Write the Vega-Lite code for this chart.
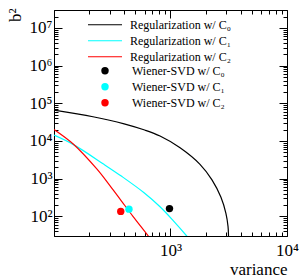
{
  "$schema": "https://vega.github.io/schema/vega-lite/v6.json",
  "width": 233,
  "height": 226,
  "autosize": "none",
  "padding": {"left": 54, "top": 10, "right": 18, "bottom": 44},
  "config": {
    "view": {"stroke": "#000000", "strokeWidth": 1},
    "font": "Liberation Serif",
    "axis": {
      "domain": false,
      "grid": false,
      "labelFont": "Liberation Serif",
      "labelFontSize": 17,
      "labelColor": "#000000",
      "titleFont": "Liberation Serif",
      "titleFontSize": 17,
      "titleFontWeight": "normal",
      "titleColor": "#000000",
      "tickColor": "#000000",
      "tickWidth": 1,
      "labelOverlap": false,
      "labelBound": false,
      "labelFlush": false
    },
    "legend": {
      "labelFont": "Liberation Serif",
      "labelFontSize": 12,
      "labelColor": "#000000",
      "padding": 0,
      "rowPadding": 0,
      "clipHeight": 15.5
    }
  },
  "layer": [
    {
      "data": {"values": [
        {"series": "Regularization w/ C₀", "variance": 100, "b2": 66000},
        {"series": "Regularization w/ C₀", "variance": 216, "b2": 44000},
        {"series": "Regularization w/ C₀", "variance": 400, "b2": 28500},
        {"series": "Regularization w/ C₀", "variance": 600, "b2": 19500},
        {"series": "Regularization w/ C₀", "variance": 813, "b2": 13500},
        {"series": "Regularization w/ C₀", "variance": 1208, "b2": 6600},
        {"series": "Regularization w/ C₀", "variance": 1791, "b2": 2400},
        {"series": "Regularization w/ C₀", "variance": 2270, "b2": 930},
        {"series": "Regularization w/ C₀", "variance": 2711, "b2": 320},
        {"series": "Regularization w/ C₀", "variance": 2990, "b2": 120},
        {"series": "Regularization w/ C₀", "variance": 3117, "b2": 54},
        {"series": "Regularization w/ C₀", "variance": 3147, "b2": 30},
        {"series": "Regularization w/ C₀", "variance": 3160, "b2": 10},
        {"series": "Regularization w/ C₁", "variance": 100, "b2": 14300},
        {"series": "Regularization w/ C₁", "variance": 147, "b2": 8000},
        {"series": "Regularization w/ C₁", "variance": 268, "b2": 2400},
        {"series": "Regularization w/ C₁", "variance": 381, "b2": 1150},
        {"series": "Regularization w/ C₁", "variance": 593, "b2": 422},
        {"series": "Regularization w/ C₁", "variance": 813, "b2": 179},
        {"series": "Regularization w/ C₁", "variance": 1050, "b2": 78},
        {"series": "Regularization w/ C₁", "variance": 1377, "b2": 30},
        {"series": "Regularization w/ C₁", "variance": 1620, "b2": 16},
        {"series": "Regularization w/ C₂", "variance": 100, "b2": 20200},
        {"series": "Regularization w/ C₂", "variance": 147, "b2": 8200},
        {"series": "Regularization w/ C₂", "variance": 235, "b2": 1750},
        {"series": "Regularization w/ C₂", "variance": 303, "b2": 640},
        {"series": "Regularization w/ C₂", "variance": 374, "b2": 270},
        {"series": "Regularization w/ C₂", "variance": 476, "b2": 100},
        {"series": "Regularization w/ C₂", "variance": 645, "b2": 30},
        {"series": "Regularization w/ C₂", "variance": 751, "b2": 16}
      ]},
      "mark": {"type": "line", "clip": true, "strokeWidth": 1.2, "interpolate": "catmull-rom"},
      "encoding": {
        "x": {
          "field": "variance", "type": "quantitative",
          "scale": {"type": "log", "domain": [100, 10000], "nice": false},
          "axis": {
            "orient": "bottom",
            "title": "variance",
            "titleAlign": "right",
            "titleAnchor": "end",
            "titleBaseline": "alphabetic",
            "titleX": 233,
            "titleY": 38,
            "values": [100, 200, 300, 400, 500, 600, 700, 800, 900, 1000, 2000, 3000, 4000, 5000, 6000, 7000, 8000, 9000, 10000],
            "labelExpr": "(datum.value >= 1000 && abs(log(datum.value)/LN10 - round(log(datum.value)/LN10)) < 0.001) ? '10' + ['⁰','¹','²','³','⁴','⁵','⁶','⁷','⁸','⁹'][round(log(datum.value)/LN10)] : ''",
            "tickSize": {"condition": {"test": "abs(log(datum.value)/LN10 - round(log(datum.value)/LN10)) < 0.001", "value": -8}, "value": -4},
            "labelPadding": 14
          }
        },
        "y": {
          "field": "b2", "type": "quantitative",
          "scale": {"type": "log", "domain": [30, 30000000], "nice": false},
          "axis": {
            "orient": "left",
            "title": "b²",
            "titleAngle": -90,
            "titleAlign": "right",
            "titleAnchor": "end",
            "titleBaseline": "alphabetic",
            "titleX": -34,
            "titleY": -2,
            "values": [30, 40, 50, 60, 70, 80, 90, 100, 200, 300, 400, 500, 600, 700, 800, 900, 1000, 2000, 3000, 4000, 5000, 6000, 7000, 8000, 9000, 10000, 20000, 30000, 40000, 50000, 60000, 70000, 80000, 90000, 100000, 200000, 300000, 400000, 500000, 600000, 700000, 800000, 900000, 1000000, 2000000, 3000000, 4000000, 5000000, 6000000, 7000000, 8000000, 9000000, 10000000, 20000000, 30000000],
            "labelExpr": "(abs(log(datum.value)/LN10 - round(log(datum.value)/LN10)) < 0.001) ? '10' + ['⁰','¹','²','³','⁴','⁵','⁶','⁷','⁸','⁹'][round(log(datum.value)/LN10)] : ''",
            "tickSize": {"condition": {"test": "abs(log(datum.value)/LN10 - round(log(datum.value)/LN10)) < 0.001", "value": -8}, "value": -4},
            "labelPadding": 10
          }
        },
        "stroke": {
          "field": "series", "type": "nominal",
          "scale": {"domain": ["Regularization w/ C₀", "Regularization w/ C₁", "Regularization w/ C₂"], "range": ["#000000", "#00ffff", "#ff0000"]},
          "legend": {
            "title": null,
            "orient": "none",
            "legendX": 33,
            "legendY": 7,
            "symbolType": "stroke",
            "symbolSize": 1156,
            "symbolStrokeWidth": 1.2,
            "labelOffset": 7
          }
        }
      }
    },
    {
      "data": {"values": [
        {"series": "Wiener-SVD w/ C₀", "variance": 980, "b2": 160},
        {"series": "Wiener-SVD w/ C₁", "variance": 440, "b2": 155},
        {"series": "Wiener-SVD w/ C₂", "variance": 374, "b2": 135}
      ]},
      "mark": {"type": "point", "filled": true, "opacity": 1, "size": 55},
      "encoding": {
        "x": {
          "field": "variance", "type": "quantitative",
          "scale": {"type": "log", "domain": [100, 10000], "nice": false},
          "axis": {
            "orient": "top",
            "title": null,
            "labels": false,
            "values": [100, 200, 300, 400, 500, 600, 700, 800, 900, 1000, 2000, 3000, 4000, 5000, 6000, 7000, 8000, 9000, 10000],
            "tickSize": {"condition": {"test": "abs(log(datum.value)/LN10 - round(log(datum.value)/LN10)) < 0.001", "value": -8}, "value": -4}
          }
        },
        "y": {
          "field": "b2", "type": "quantitative",
          "scale": {"type": "log", "domain": [30, 30000000], "nice": false},
          "axis": {
            "orient": "right",
            "title": null,
            "labels": false,
            "values": [30, 40, 50, 60, 70, 80, 90, 100, 200, 300, 400, 500, 600, 700, 800, 900, 1000, 2000, 3000, 4000, 5000, 6000, 7000, 8000, 9000, 10000, 20000, 30000, 40000, 50000, 60000, 70000, 80000, 90000, 100000, 200000, 300000, 400000, 500000, 600000, 700000, 800000, 900000, 1000000, 2000000, 3000000, 4000000, 5000000, 6000000, 7000000, 8000000, 9000000, 10000000, 20000000, 30000000],
            "tickSize": {"condition": {"test": "abs(log(datum.value)/LN10 - round(log(datum.value)/LN10)) < 0.001", "value": -8}, "value": -4}
          }
        },
        "fill": {
          "field": "series", "type": "nominal",
          "scale": {"domain": ["Wiener-SVD w/ C₀", "Wiener-SVD w/ C₁", "Wiener-SVD w/ C₂"], "range": ["#000000", "#00ffff", "#ff0000"]},
          "legend": {
            "title": null,
            "orient": "none",
            "legendX": 45,
            "legendY": 53,
            "symbolType": "circle",
            "symbolSize": 55,
            "symbolStrokeWidth": 0,
            "labelOffset": 21
          }
        }
      }
    }
  ],
  "resolve": {"axis": {"x": "independent", "y": "independent"}}
}
